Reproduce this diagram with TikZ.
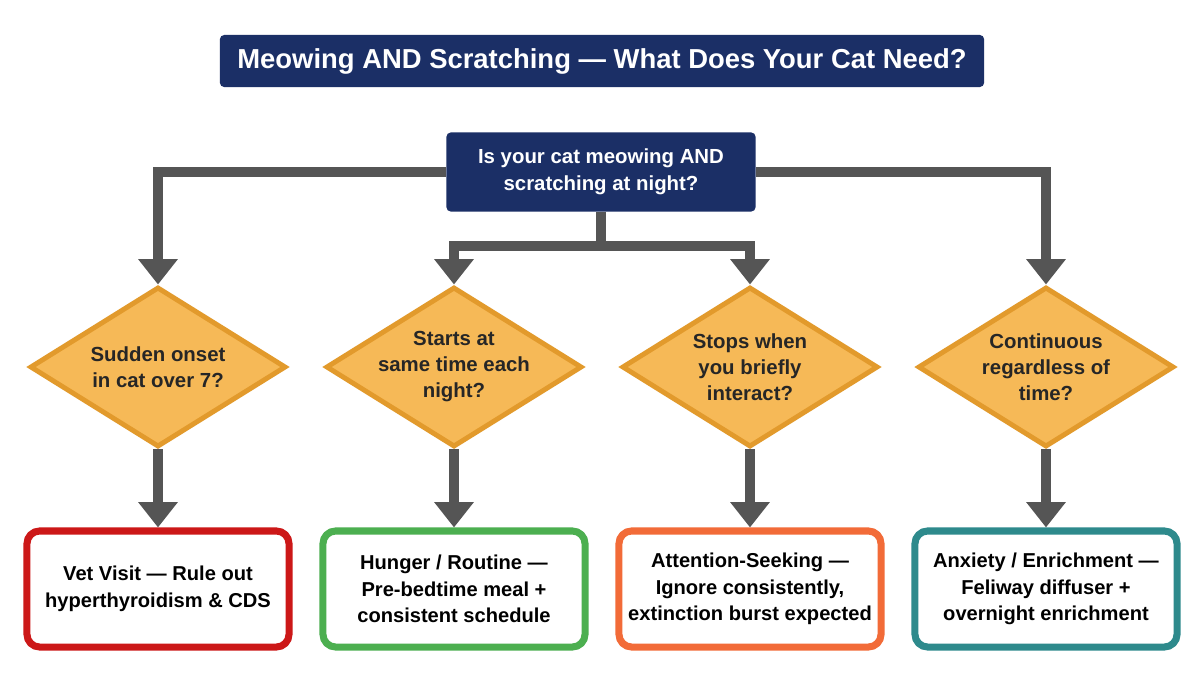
\documentclass[tikz,border=0pt]{standalone}
\usepackage{fontspec}
\setmainfont{Liberation Sans}
\usetikzlibrary{positioning,shapes.geometric,arrows.meta}
\definecolor{navy}{HTML}{1B2F66}
\definecolor{flowgray}{HTML}{555555}
\definecolor{qfill}{HTML}{F6B957}
\definecolor{qedge}{HTML}{E29A2C}
\definecolor{vetred}{HTML}{CC1818}
\definecolor{hungergreen}{HTML}{4CAF50}
\definecolor{attnorange}{HTML}{F26B38}
\definecolor{anxteal}{HTML}{2E8A8C}

\begin{document}
\begin{tikzpicture}[x=0.025cm, y=-0.025cm,
        header/.style={fill=navy, rounded corners=3pt, minimum width=19.1cm, minimum height=1.3cm, text=white, font=\bfseries\fontsize{19.5}{23}\selectfont},
        start/.style={fill=navy, rounded corners=3pt, minimum width=7.725cm, minimum height=1.975cm, text=white, align=center, font=\bfseries\fontsize{14.5}{19}\selectfont},
        question/.style={diamond, draw=qedge, fill=qfill, line width=3.5pt, minimum width=6.4cm, minimum height=4cm, inner sep=0pt},
        qtext/.style={align=center, text=black!85, font=\bfseries\fontsize{14.5}{18.5}\selectfont},
        answer/.style={draw=#1, fill=white, line width=5pt, rounded corners=9pt, minimum width=6.55cm, minimum height=2.9cm, align=center, font=\bfseries\fontsize{14.3}{19}\selectfont},
        flow/.style={draw=flowgray, line width=7.8pt, -{Triangle[width=27pt, length=18pt]}}
    ]
        \useasboundingbox[fill=white] (0,0) rectangle (1204,672);
        \node[header] (title) at (602,61) {Meowing AND Scratching — What Does Your Cat Need?};
        \node[start]  (top)   at (601,172) {Is your cat meowing AND\\scratching at night?};

        % decision diamonds
        \node[question, label={[qtext]center:Sudden onset\\in cat over 7?}]          (q1) at (158,367) {};
        \node[question, label={[qtext]center:Starts at\\same time each\\night?}]     (q2) at (454,367) {};
        \node[question, label={[qtext]center:Stops when\\you briefly\\interact?}]    (q3) at (750,367) {};
        \node[question, label={[qtext]center:Continuous\\regardless of\\time?}]      (q4) at (1046,367) {};

        % outcomes
        \node[answer=vetred]      (a1) at (158,589)  {Vet Visit — Rule out\\hyperthyroidism \& CDS};
        \node[answer=hungergreen] (a2) at (454,589)  {Hunger / Routine —\\Pre-bedtime meal +\\consistent schedule};
        \node[answer=attnorange]  (a3) at (750,589)  {Attention-Seeking —\\Ignore consistently,\\extinction burst expected};
        \node[answer=anxteal]     (a4) at (1046,589) {Anxiety / Enrichment —\\Feliway diffuser +\\overnight enrichment};

        \coordinate (split) at (601,246);
        \draw[flow] (top.west) -| (q1.north);
        \draw[flow] (top.east) -| (q4.north);
        \draw[flow] (top.south) -- (split) -| (q2.north);
        \draw[flow] (split) -| (q3.north);
        \draw[flow] (q1.south) -- (a1.north);
        \draw[flow] (q2.south) -- (a2.north);
        \draw[flow] (q3.south) -- (a3.north);
        \draw[flow] (q4.south) -- (a4.north);
    \end{tikzpicture}
\end{document}
